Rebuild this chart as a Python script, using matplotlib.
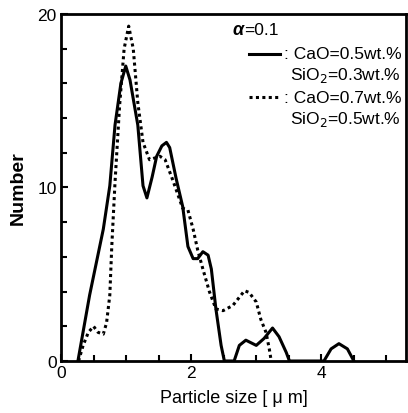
import matplotlib
matplotlib.use("Agg")
import matplotlib.pyplot as plt
from matplotlib.ticker import MultipleLocator

plt.rcParams["font.family"] = ["Liberation Sans", "DejaVu Sans"]

# CaO=0.5wt.%, SiO2=0.3wt.% (solid)
size_a = [0.26, 0.44, 0.65, 0.75, 0.83, 0.92, 0.995, 1.06, 1.18, 1.26, 1.32, 1.40, 1.47,
          1.55, 1.62, 1.67, 1.77, 1.87, 1.95, 2.03, 2.10, 2.18, 2.26, 2.31, 2.38,
          2.46, 2.51, 2.66, 2.74, 2.84, 3.00, 3.12, 3.25, 3.35, 3.46, 3.51, 4.04,
          4.15, 4.27, 4.40, 4.50]
num_a = [0.0, 3.8, 7.6, 10.1, 13.6, 16.0, 17.0, 16.2, 13.6, 10.1, 9.4, 10.6, 11.8,
         12.4, 12.6, 12.3, 10.5, 8.9, 6.6, 5.9, 5.9, 6.3, 6.1, 5.3, 3.0,
         0.9, 0.0, 0.0, 0.9, 1.2, 0.9, 1.3, 1.9, 1.4, 0.5, 0.0, 0.0,
         0.7, 1.0, 0.7, 0.0]

# CaO=0.7wt.%, SiO2=0.5wt.% (dotted)
size_b = [0.27, 0.34, 0.42, 0.50, 0.57, 0.65, 0.70, 0.75, 0.78, 0.83, 0.90, 0.97, 1.04,
          1.11, 1.18, 1.26, 1.36, 1.52, 1.60, 1.72, 1.87, 1.95, 2.03, 2.10, 2.18,
          2.28, 2.38, 2.49, 2.64, 2.82, 2.89, 3.00, 3.07, 3.15, 3.20, 3.23]
num_b = [0.0, 0.9, 1.65, 2.0, 1.65, 1.55, 2.2, 3.8, 6.6, 10.3, 14.7, 18.0, 19.3,
         18.0, 14.9, 12.6, 11.6, 11.8, 11.6, 10.4, 8.8, 8.7, 7.6, 6.4, 5.3,
         4.0, 3.0, 2.9, 3.2, 4.05, 3.95, 3.4, 2.4, 1.65, 0.7, 0.0]

fig = plt.figure(figsize=(4.08, 4.14), dpi=100)
ax = fig.add_axes([0.1495, 0.1256, 0.8455, 0.8382])

ax.plot(size_a, num_a, color="black", lw=2.2, solid_joinstyle="round")
ax.plot(size_b, num_b, color="black", lw=2.2, linestyle=(0, (1, 1.1)))

ax.set_xlim(0, 5.3)
ax.set_ylim(0, 20)
ax.xaxis.set_major_locator(MultipleLocator(2))
ax.xaxis.set_minor_locator(MultipleLocator(0.5))
ax.yaxis.set_major_locator(MultipleLocator(10))
ax.yaxis.set_minor_locator(MultipleLocator(2))
ax.tick_params(which="both", direction="in", width=1.5, labelsize=12.5, pad=3)
ax.tick_params(which="major", length=5)
ax.tick_params(which="minor", length=4)
for s in ax.spines.values():
    s.set_linewidth(2)

ax.set_xlabel("Particle size [ \u03bc m]", fontsize=13, labelpad=6)
ax.set_ylabel("Number", fontsize=14, fontweight="bold", labelpad=8)

# legend-like annotations
ax.text(2.64, 19.1, "\u03b1", fontsize=13, fontweight="bold", fontstyle="italic",
        va="center")
ax.text(2.82, 19.1, "=0.1", fontsize=12.5, va="center")
ax.plot([2.89, 3.36], [17.7, 17.7], color="black", lw=2.2)
ax.text(3.43, 17.7, ": CaO=0.5wt.%", fontsize=12.5, va="center")
ax.text(3.52, 16.5, "SiO$_2$=0.3wt.%", fontsize=12.5, va="center")
ax.plot([2.89, 3.36], [15.2, 15.2], color="black", lw=2.2, linestyle=(0, (1, 1.1)))
ax.text(3.43, 15.2, ": CaO=0.7wt.%", fontsize=12.5, va="center")
ax.text(3.52, 14.0, "SiO$_2$=0.5wt.%", fontsize=12.5, va="center")

fig.savefig("out.png", dpi=100)
